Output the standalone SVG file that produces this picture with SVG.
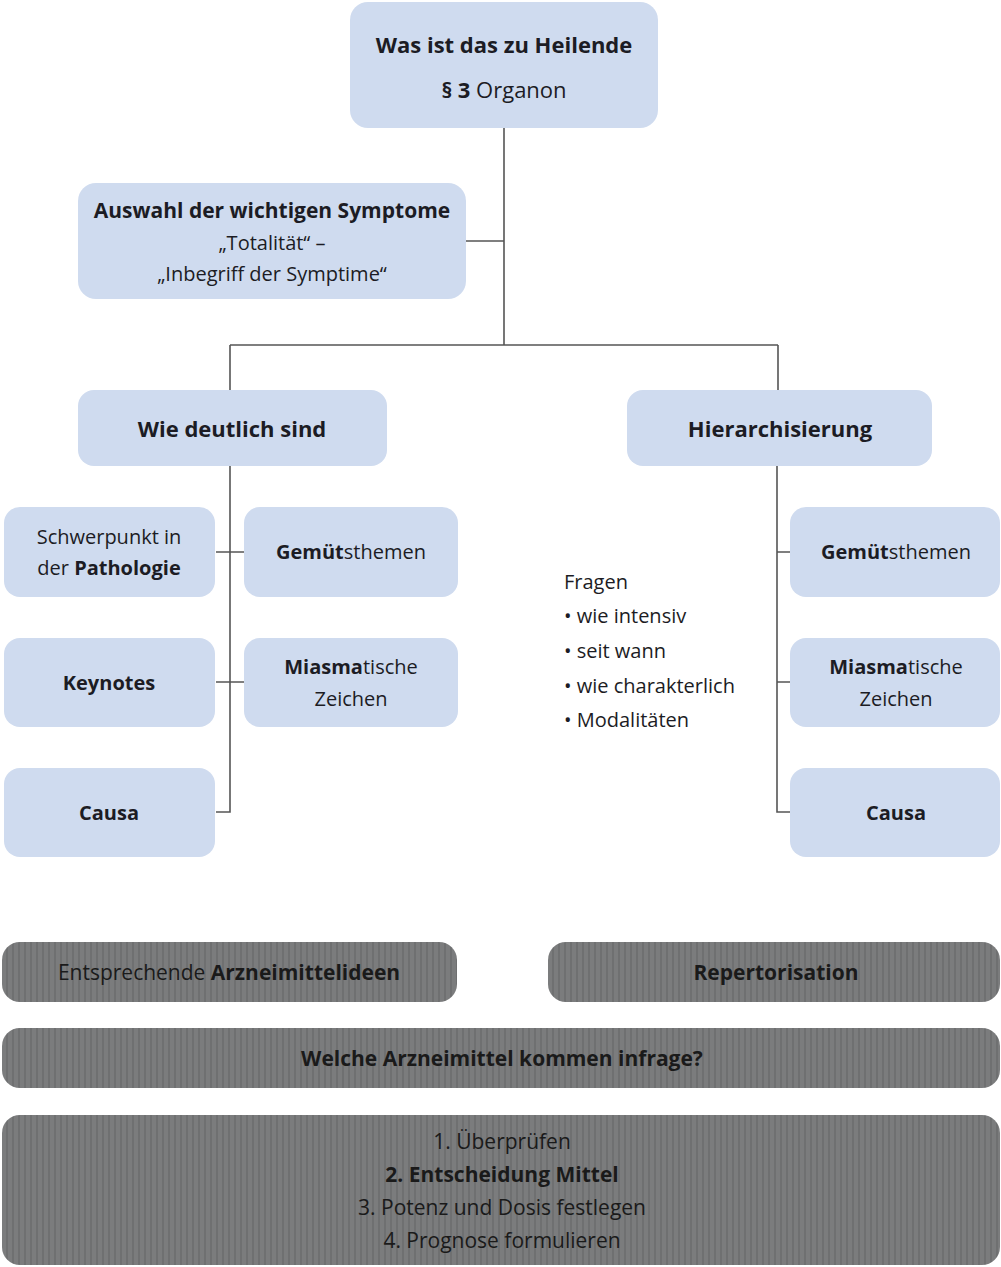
<svg xmlns="http://www.w3.org/2000/svg" width="1001" height="1267" viewBox="0 0 1001 1267">
<style>
.b{fill:#cfdbef;}
text{font-family:"Open Sans","Liberation Sans",sans-serif;fill:#1c1c24;text-anchor:middle;font-size:20px;}
.bd{font-weight:bold;}
.lg{font-size:22px;}
.md{font-size:21px;}
.dk{fill:#1a1a1a;font-size:21px;}
.ln{stroke:#555;stroke-width:1.6;fill:none;}
.l{text-anchor:start;}
</style>
<defs>
<pattern id="stripes" width="6" height="10" patternUnits="userSpaceOnUse">
<rect width="6" height="10" fill="#7b7c7d"/>
<rect width="2" height="10" fill="#6f7071"/>
</pattern>
</defs>
<g id="connectors">
<path class="ln" d="M504 128V345M466 241H504M230 345H778M230 345V390M778 345V390"/>
<path class="ln" d="M230 466V812H216M216 552H244M216 682H244"/>
<path class="ln" d="M777 466V812H792M777 552H792M777 682H792"/>
</g>
<g id="n-top"><rect class="b" x="350" y="2" width="308" height="126" rx="18"/>
<text class="bd lg" x="504" y="53">Was ist das zu Heilende</text>
<text class="lg" x="504" y="98"><tspan class="bd">§ 3</tspan> Organon</text></g>
<g id="n-auswahl"><rect class="b" x="78" y="183" width="388" height="116" rx="18"/>
<text class="bd md" x="272" y="218">Auswahl der wichtigen Symptome</text>
<text x="272" y="250">„Totalität“ –</text>
<text x="272" y="281">„Inbegriff der Symptime“</text></g>
<g id="n-wie"><rect class="b" x="78" y="390" width="309" height="76" rx="16"/>
<text class="bd lg" x="232" y="437">Wie deutlich sind</text></g>
<g id="n-hier"><rect class="b" x="627" y="390" width="305" height="76" rx="16"/>
<text class="bd lg" x="780" y="437">Hierarchisierung</text></g>
<g id="n-schwer"><rect class="b" x="4" y="507" width="211" height="90" rx="16"/>
<text x="109" y="544">Schwerpunkt in</text>
<text x="109" y="575">der <tspan class="bd">Pathologie</tspan></text></g>
<g id="n-gem-l"><rect class="b" x="244" y="507" width="214" height="90" rx="16"/>
<text x="351" y="559"><tspan class="bd">Gemüt</tspan>sthemen</text></g>
<g id="n-key"><rect class="b" x="4" y="638" width="211" height="89" rx="16"/>
<text class="bd" x="109" y="690">Keynotes</text></g>
<g id="n-mia-l"><rect class="b" x="244" y="638" width="214" height="89" rx="16"/>
<text x="351" y="674"><tspan class="bd">Miasma</tspan>tische</text>
<text x="351" y="706">Zeichen</text></g>
<g id="n-causa-l"><rect class="b" x="4" y="768" width="211" height="89" rx="16"/>
<text class="bd" x="109" y="820">Causa</text></g>
<g id="n-gem-r"><rect class="b" x="790" y="507" width="210" height="90" rx="16"/>
<text x="896" y="559"><tspan class="bd">Gemüt</tspan>sthemen</text></g>
<g id="n-mia-r"><rect class="b" x="790" y="638" width="210" height="89" rx="16"/>
<text x="896" y="674"><tspan class="bd">Miasma</tspan>tische</text>
<text x="896" y="706">Zeichen</text></g>
<g id="n-causa-r"><rect class="b" x="790" y="768" width="210" height="89" rx="16"/>
<text class="bd" x="896" y="820">Causa</text></g>
<g id="n-fragen">
<text class="l" x="564" y="589">Fragen</text>
<text class="l" x="564" y="623">• wie intensiv</text>
<text class="l" x="564" y="658">• seit wann</text>
<text class="l" x="564" y="693">• wie charakterlich</text>
<text class="l" x="564" y="727">• Modalitäten</text>
</g>
<g id="n-arznei"><rect x="2" y="942" width="455" height="60" rx="18" fill="url(#stripes)"/>
<text class="dk" x="229" y="980">Entsprechende <tspan class="bd">Arzneimittelideen</tspan></text></g>
<g id="n-rep"><rect x="548" y="942" width="452" height="60" rx="18" fill="url(#stripes)"/>
<text class="dk bd" x="776" y="980">Repertorisation</text></g>
<g id="n-welche"><rect x="2" y="1028" width="998" height="60" rx="18" fill="url(#stripes)"/>
<text class="dk bd" x="502" y="1066">Welche Arzneimittel kommen infrage?</text></g>
<g id="n-steps"><rect x="2" y="1115" width="998" height="150" rx="18" fill="url(#stripes)"/>
<text class="dk" x="502" y="1149">1. Überprüfen</text>
<text class="dk bd" x="502" y="1182">2. Entscheidung Mittel</text>
<text class="dk" x="502" y="1215">3. Potenz und Dosis festlegen</text>
<text class="dk" x="502" y="1248">4. Prognose formulieren</text></g>
</svg>
